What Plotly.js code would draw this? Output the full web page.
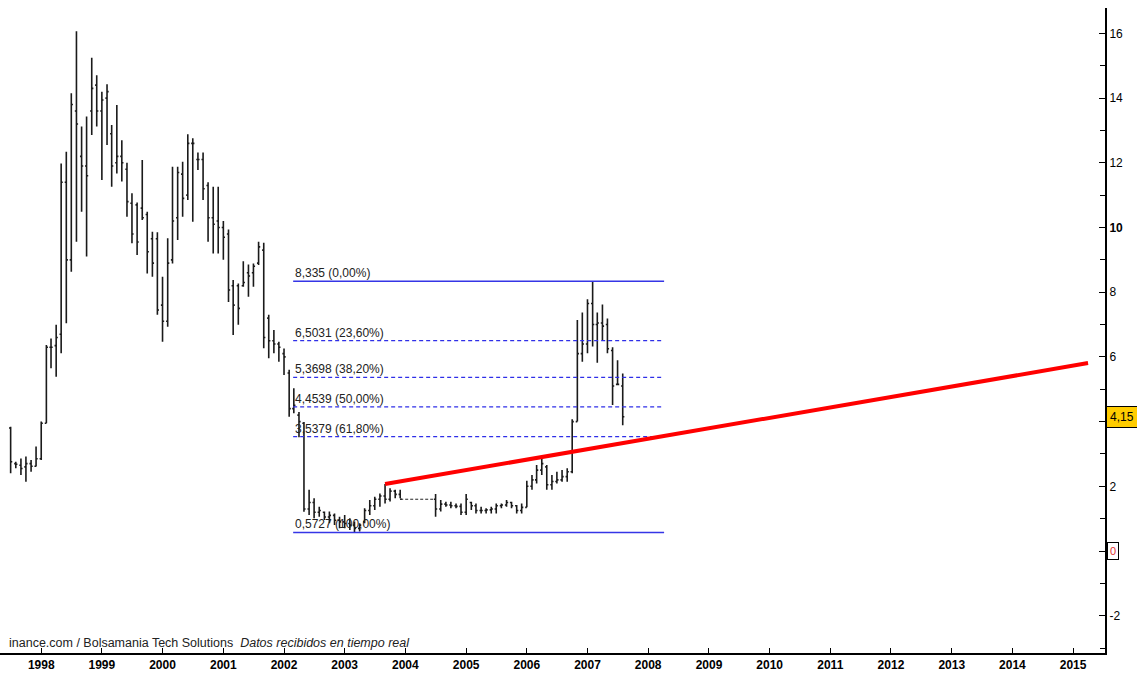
<!DOCTYPE html>
<html>
<head>
<meta charset="utf-8">
<script src="https://cdn.plot.ly/plotly-3.0.1.min.js"></script>
<style>html,body{margin:0;padding:0;background:#fff;}#chart{width:1137px;height:674px;}</style>
</head>
<body>
<div id="chart"></div>
<script>
// Monthly bars (gap Jan-Jun 2004 shown as dashed connector)
const dates = [
 '1997-07','1997-08','1997-09','1997-10','1997-11','1997-12',
 '1998-01','1998-02','1998-03','1998-04','1998-05','1998-06','1998-07','1998-08','1998-09','1998-10','1998-11','1998-12',
 '1999-01','1999-02','1999-03','1999-04','1999-05','1999-06','1999-07','1999-08','1999-09','1999-10','1999-11','1999-12',
 '2000-01','2000-02','2000-03','2000-04','2000-05','2000-06','2000-07','2000-08','2000-09','2000-10','2000-11','2000-12',
 '2001-01','2001-02','2001-03','2001-04','2001-05','2001-06','2001-07','2001-08','2001-09','2001-10','2001-11','2001-12',
 '2002-01','2002-02','2002-03','2002-04','2002-05','2002-06','2002-07','2002-08','2002-09','2002-10','2002-11','2002-12',
 '2003-01','2003-02','2003-03','2003-04','2003-05','2003-06','2003-07','2003-08','2003-09','2003-10','2003-11','2003-12',
 '2004-07','2004-08','2004-09','2004-10','2004-11','2004-12',
 '2005-01','2005-02','2005-03','2005-04','2005-05','2005-06','2005-07','2005-08','2005-09','2005-10','2005-11','2005-12',
 '2006-01','2006-02','2006-03','2006-04','2006-05','2006-06','2006-07','2006-08','2006-09','2006-10','2006-11','2006-12',
 '2007-01','2007-02','2007-03','2007-04','2007-05','2007-06','2007-07','2007-08'
];
const openV = [
 3.80,2.70,2.65,2.60,2.70,2.62,
 2.85,3.95,6.30,6.35,6.70,11.40,9.00,13.60,12.20,11.90,13.60,14.40,
 13.60,14.00,12.90,12.00,12.20,11.80,10.75,10.70,10.60,10.40,9.65,9.65,
 7.60,7.10,9.00,10.30,11.65,11.00,12.60,12.10,12.10,11.30,10.30,10.20,
 10.00,9.80,8.20,8.20,8.20,8.60,8.60,8.90,9.30,7.20,6.50,6.40,
 6.10,5.50,4.40,4.20,3.95,1.30,1.50,1.20,1.20,1.05,1.10,0.95,
 0.90,0.85,0.80,0.70,0.90,1.25,1.40,1.60,1.70,1.60,1.85,1.75,
 1.60,1.30,1.45,1.42,1.40,1.38,
 1.20,1.50,1.40,1.25,1.25,1.27,1.30,1.40,1.42,1.50,1.40,1.25,
 1.35,2.00,2.20,2.50,2.60,2.05,2.15,2.20,2.30,2.45,4.00,6.10,
 6.40,7.65,7.00,7.05,7.00,6.20,5.15,5.10
];
const highV = [
 3.84,2.76,2.86,2.92,2.81,3.23,
 4.00,6.37,6.57,6.99,11.98,12.34,14.15,16.07,13.12,13.43,15.25,14.71,
 14.20,14.43,13.17,13.79,12.70,12.00,11.06,10.77,12.09,10.49,9.87,9.85,
 8.48,9.67,11.88,11.88,12.03,12.88,12.76,12.32,12.32,11.40,11.26,11.26,
 10.20,9.94,8.38,8.27,8.96,8.86,8.89,9.56,9.53,7.30,6.83,6.47,
 6.26,5.60,5.03,4.30,3.99,1.89,1.63,1.37,1.22,1.22,1.16,1.06,
 1.11,1.01,0.91,0.86,1.32,1.58,1.68,1.78,2.07,1.94,1.89,1.89,
 1.76,1.58,1.52,1.52,1.47,1.47,
 1.76,1.52,1.47,1.37,1.32,1.37,1.47,1.47,1.58,1.52,1.42,1.47,
 2.17,2.35,2.66,2.92,2.66,2.35,2.45,2.50,2.56,4.07,7.14,7.37,
 7.78,8.335,7.37,7.62,7.19,6.30,5.90,5.49
];
const lowV = [
 2.40,2.56,2.35,2.14,2.45,2.61,
 2.81,3.95,5.65,5.39,6.11,7.04,8.63,9.56,10.49,9.10,12.86,13.12,
 11.47,12.55,11.26,11.67,11.42,10.33,9.51,9.15,10.23,8.58,8.48,7.30,
 6.47,6.93,8.89,9.61,10.33,10.85,10.18,11.78,10.85,9.56,9.20,9.20,
 9.00,7.70,6.68,6.99,8.17,7.86,8.17,8.84,6.27,5.96,6.11,5.85,
 5.44,4.15,4.26,3.52,1.21,1.11,1.01,1.06,0.96,0.86,0.80,0.70,
 0.70,0.65,0.5727,0.60,0.86,1.11,1.27,1.37,1.47,1.53,1.63,1.63,
 1.06,1.22,1.37,1.32,1.32,1.11,
 1.11,1.27,1.16,1.16,1.16,1.16,1.16,1.32,1.37,1.32,1.16,1.16,
 1.35,1.89,2.09,2.35,1.89,1.89,2.09,2.14,2.14,2.40,4.00,5.85,
 6.11,6.32,5.82,6.52,6.11,4.51,5.13,3.89
];
const closeV = [
 2.76,2.68,2.55,2.70,2.62,2.85,
 3.95,6.30,6.30,6.60,11.40,9.00,13.80,13.20,11.90,11.60,14.30,13.60,
 13.94,14.20,11.90,12.20,12.00,10.80,9.80,9.55,10.30,9.25,8.90,7.45,
 7.10,8.90,10.20,11.70,10.90,12.60,12.60,12.10,11.20,10.30,10.10,10.00,
 9.70,8.07,7.60,7.50,8.30,8.50,8.80,9.40,6.60,6.50,6.40,6.30,
 6.00,4.40,4.50,4.00,1.30,1.50,1.20,1.25,1.05,1.10,0.95,0.90,
 0.85,0.80,0.70,0.80,1.25,1.40,1.60,1.70,1.60,1.85,1.75,1.60,
 1.30,1.45,1.42,1.40,1.38,1.20,
 1.60,1.40,1.25,1.25,1.27,1.30,1.40,1.42,1.50,1.40,1.25,1.35,
 2.00,2.20,2.50,2.70,2.05,2.15,2.20,2.30,2.45,4.00,6.10,6.40,
 7.65,7.00,7.05,6.95,6.25,5.10,5.15,4.15
];
// suspension gap connector
const gapX = ['2003-12','2004-07'];
const gapY = [1.60, 1.60];

// Fibonacci retracement levels
const fibLevels = [8.335, 6.5031, 5.3698, 4.4539, 3.5379, 0.5727];
const fibLabels = ['8,335 (0,00%)','6,5031 (23,60%)','5,3698 (38,20%)','4,4539 (50,00%)','3,5379 (61,80%)','0,5727 (100,00%)'];
const fibSpan = ['2002-02-25','2008-04-06'];

// trend line
const trendX = ['2003-09-01','2015-04-01'];
const trendY = [2.07, 5.81];

// axis ticks
const yTickVals = [-2,0,2,4,6,8,10,12,14,16];
const yTickText = ['-2','','2','','6','8','<b>10</b>','12','14','16'];
const lastPrice = 4.15;
const lastPriceLabel = '4,15';

const FONT = 'Liberation Sans, Arial, sans-serif';

const traces = [];
traces.push({
  type:'scatter', mode:'lines', x:gapX, y:gapY,
  line:{color:'#222', width:1, dash:'3px,2px'}, showlegend:false, hoverinfo:'skip'
});
fibLevels.forEach((lv,i)=>{
  const solid = (i===0 || i===fibLevels.length-1);
  traces.push({
    type:'scatter', mode:'lines', x:fibSpan, y:[lv,lv],
    line:{color: solid ? '#3535e6' : '#2f2fe8', width: solid?1.5:1.2, dash: solid?'solid':'4px,3px'},
    showlegend:false, hoverinfo:'skip'
  });
});
traces.push({
  type:'scatter', mode:'lines', x:trendX, y:trendY,
  line:{color:'#ff0000', width:4}, showlegend:false, hoverinfo:'skip'
});
traces.push({
  type:'ohlc', x:dates, open:openV, high:highV, low:lowV, close:closeV,
  increasing:{line:{color:'#1a1a1a', width:1.6}},
  decreasing:{line:{color:'#1a1a1a', width:1.6}},
  tickwidth:0.35, showlegend:false, hoverinfo:'skip'
});

const annotations = fibLevels.map((lv,i)=>({
  x:fibSpan[0], y:lv, xref:'x', yref:'y', text:fibLabels[i],
  showarrow:false, xanchor:'left', yanchor:'bottom', xshift:0, yshift:-1,
  font:{family:FONT, size:12, color:'#222'}
}));
annotations.push({
  x:1, xref:'paper', y:lastPrice, yref:'y', text:lastPriceLabel, showarrow:false,
  xanchor:'left', yanchor:'middle', xshift:1,
  bgcolor:'#ffcc00', bordercolor:'#000', borderwidth:1, borderpad:3,
  font:{family:FONT, size:12, color:'#000'}
});
annotations.push({
  x:1, xref:'paper', y:0, yref:'y', text:'0', showarrow:false,
  xanchor:'left', yanchor:'middle', xshift:2,
  bgcolor:'#fff', bordercolor:'#000', borderwidth:1, borderpad:2,
  font:{family:FONT, size:11, color:'#e03030'}
});
annotations.push({
  x:0, xref:'paper', y:0, yref:'paper', xanchor:'left', yanchor:'bottom', xshift:7, yshift:1,
  text:'inance.com / Bolsamania Tech Solutions&nbsp;&nbsp;<i>Datos recibidos en tiempo real</i>',
  showarrow:false, font:{family:FONT, size:12.5, color:'#222'}
});

const layout = {
  width:1137, height:674,
  margin:{l:0, r:32, t:8, b:21, pad:0},
  paper_bgcolor:'#fff', plot_bgcolor:'#fff',
  showlegend:false, hovermode:false,
  font:{family:FONT, size:12, color:'#000'},
  xaxis:{
    type:'date', range:['1997-04-28','2015-07-12'],
    rangeslider:{visible:false},
    showgrid:false, zeroline:false,
    showline:true, linecolor:'#000', linewidth:2,
    ticks:'inside', ticklen:5, tickcolor:'#000', tickwidth:1,
    dtick:'M12', tick0:'1998-01-01', tickformat:'%Y',
    tickfont:{family:FONT, size:12, color:'#000', weight:'bold'}
  },
  yaxis:{
    side:'right', range:[-3.153, 16.785],
    showgrid:false, zeroline:false,
    showline:true, linecolor:'#000', linewidth:2,
    ticks:'inside', ticklen:6, tickcolor:'#000', tickwidth:1,
    tickmode:'array', tickvals:yTickVals, ticktext:yTickText,
    minor:{dtick:1, tick0:1, ticks:'inside', ticklen:5, tickcolor:'#000', showgrid:false},
    tickfont:{family:FONT, size:12, color:'#000'}
  },
  annotations:annotations
};

Plotly.newPlot('chart', traces, layout, {staticPlot:true, displayModeBar:false});
</script>
</body>
</html>
